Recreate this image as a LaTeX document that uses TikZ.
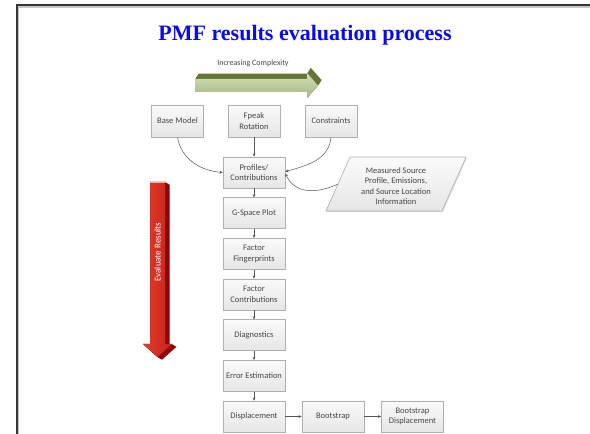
\documentclass[tikz,border=0pt]{standalone}
\usepackage{fontspec}
\setmainfont{Carlito}
\newfontfamily\titlefont{Liberation Serif}
\usetikzlibrary{arrows.meta,shadows}
\definecolor{boxline}{RGB}{175,175,175}
\definecolor{boxtop}{RGB}{250,250,250}
\definecolor{boxbot}{RGB}{230,230,230}
\definecolor{conncol}{RGB}{85,85,85}
\definecolor{glight}{RGB}{196,214,155}
\definecolor{gdark}{RGB}{100,118,55}
\definecolor{rlight}{RGB}{242,110,88}
\definecolor{rleft}{RGB}{222,60,45}
\definecolor{rright}{RGB}{200,35,25}
\definecolor{rdark}{RGB}{140,8,8}
\definecolor{titleblue}{RGB}{10,10,240}
\definecolor{framecol}{RGB}{55,55,55}
\definecolor{txtcol}{RGB}{70,70,70}
\begin{document}
\begin{tikzpicture}[x=1pt,y=1pt,
  flowbox/.style={draw=boxline, line width=0.6pt, top color=boxtop, bottom color=boxbot,
    minimum width=62pt, minimum height=31pt, inner sep=1pt, align=center,
    font=\fontsize{8.5}{10.5}\selectfont, text=txtcol,
    drop shadow={shadow xshift=0.8pt,shadow yshift=-0.8pt,fill=black!12,opacity=1}},
  topbox/.style={flowbox, minimum width=52pt, minimum height=32pt},
  conn/.style={draw=conncol, line width=0.5pt, -{Stealth[length=3.2pt,width=2.8pt]}},
]
\useasboundingbox (0,0) rectangle (590,434);
\fill[white] (0,0) rectangle (590,434);
% frame
\draw[line width=3.4pt, black!22] (17.2,-2) -- (17.2,427.8) -- (592,427.8);
\draw[line width=2pt, framecol] (16.5,-2) -- (16.5,428.5) -- (592,428.5);
% title
\node[font=\titlefont\bfseries\fontsize{22}{26}\selectfont, text=titleblue] (title) at (305,399) {PMF results evaluation process};
% green arrow
\foreach \s in {0,0.1,...,1.0}{
  \fill[gdark, xshift=4*\s, yshift=6*\s] (195,342) -- (195,355) -- (307,355) -- (307,361) -- (318,348.5) -- (307,336) -- (307,342) -- cycle;
}
\shade[top color=glight!75!white, bottom color=glight!85!black] (195,342) -- (195,355) -- (307,355) -- (307,361) -- (318,348.5) -- (307,336) -- (307,342) -- cycle;
\node[font=\fontsize{8}{9}\selectfont, text=txtcol] (inc) at (253,371) {Increasing Complexity};
% red arrow
\foreach \s in {0,0.1,...,1.0}{
  \fill[rdark, xshift=5*\s, yshift=-3*\s] (150,252) -- (165,252) -- (165,90) -- (172,90) -- (157.5,77) -- (143,90) -- (150,90) -- cycle;
}
\shade[left color=rleft, middle color=rlight, right color=rright] (150,252) -- (165,252) -- (165,90) -- (172,90) -- (157.5,77) -- (143,90) -- (150,90) -- cycle;
\fill[rlight!50!white] (150,252) -- (165,252) -- (165,251) -- (150,251) -- cycle;
\node[rotate=90, text=white, font=\fontsize{9}{10}\selectfont] (evr) at (157.5,182) {Evaluate Results};
% boxes
\node[topbox] (base) at (177.5,313) {Base Model};
\node[topbox] (fpeak) at (254,313) {Fpeak\\Rotation};
\node[topbox] (cons) at (331,313) {Constraints};
\node[flowbox] (prof) at (254,261.5) {Profiles/\\Contributions};
\node[flowbox] (gsp) at (254,220.8) {G-Space Plot};
\node[flowbox] (ffp) at (254,180.2) {Factor\\Fingerprints};
\node[flowbox] (fco) at (254,139.5) {Factor\\Contributions};
\node[flowbox] (diag) at (254,98.8) {Diagnostics};
\node[flowbox] (err) at (254,58.2) {Error Estimation};
\node[flowbox] (disp) at (254,17.5) {Displacement};
\node[flowbox] (boot) at (333,17.5) {Bootstrap};
\node[flowbox] (bdisp) at (412.5,17.5) {Bootstrap\\Displacement};
% parallelogram
\fill[black!12] (351,276) -- (467,276) -- (443,222) -- (327,222) -- cycle;
\draw[draw=boxline, line width=0.6pt, top color=boxtop, bottom color=boxbot] (350,277) -- (466,277) -- (442,223) -- (326,223) -- cycle;
\node[align=center, font=\fontsize{8.5}{10.3}\selectfont, text=txtcol] (meas) at (396,248) {Measured Source\\Profile, Emissions,\\and Source Location\\Information};
\coordinate (measin) at (338,250);
% connectors
\draw[conn] (base.south) to[out=-80, in=175] (prof.west);
\draw[conn] (fpeak.south) -- (prof.north);
\draw[conn] (cons.south) to[out=-95, in=15] ([yshift=1pt]prof.east);
\draw[conn] (measin) to[out=205, in=-65, looseness=1.1] ([yshift=-1pt]prof.east);
\draw[conn] (prof.south) -- (gsp.north);
\draw[conn] (gsp.south) -- (ffp.north);
\draw[conn] (ffp.south) -- (fco.north);
\draw[conn] (fco.south) -- (diag.north);
\draw[conn] (diag.south) -- (err.north);
\draw[conn] (err.south) -- (disp.north);
\draw[conn] (disp.east) -- (boot.west);
\draw[conn] (boot.east) -- (bdisp.west);
\end{tikzpicture}
\end{document}
